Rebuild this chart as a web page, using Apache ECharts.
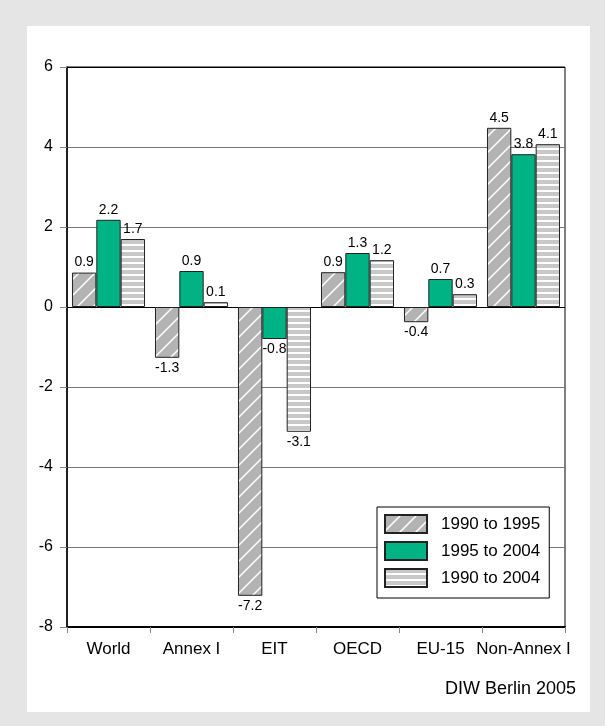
<!DOCTYPE html>
<html>
<head>
<meta charset="utf-8">
<script src="https://cdn.jsdelivr.net/npm/echarts@6/dist/echarts.min.js"></script>
<style>
html,body{margin:0;padding:0;background:#e5e5e5;}
#c{width:605px;height:726px;}
</style>
</head>
<body>
<div id="c"></div>
<script>
var categories = ['World', 'Annex I', 'EIT', 'OECD', 'EU-15', 'Non-Annex I'];
var seriesNames = ['1990 to 1995', '1995 to 2004', '1990 to 2004'];
var v1990_1995 = [0.86, -1.27, -7.22, 0.87, -0.38, 4.48];
var v1995_2004 = [2.18, 0.9, -0.8, 1.35, 0.7, 3.82];
var v1990_2004 = [1.7, 0.12, -3.12, 1.17, 0.32, 4.07];
var lab1990_1995 = ['0.9', '-1.3', '-7.2', '0.9', '-0.4', '4.5'];
var lab1995_2004 = ['2.2', '0.9', '-0.8', '1.3', '0.7', '3.8'];
var lab1990_2004 = ['1.7', '0.1', '-3.1', '1.2', '0.3', '4.1'];
var yTicks = [-8, -6, -4, -2, 0, 2, 4, 6];
var sourceText = 'DIW Berlin 2005';

var FONT = '"Liberation Sans", Arial, Helvetica, sans-serif';

function hatchPattern() {
  var c = document.createElement('canvas');
  var s = 16;
  c.width = s; c.height = s;
  var g = c.getContext('2d');
  g.fillStyle = '#b3b3b3';
  g.fillRect(0, 0, s, s);
  g.strokeStyle = '#ffffff';
  g.lineWidth = 1.5;
  g.beginPath();
  g.moveTo(-2, s + 2); g.lineTo(s + 2, -2);
  g.moveTo(-2, 2); g.lineTo(2, -2);
  g.moveTo(s - 2, s + 2); g.lineTo(s + 2, s - 2);
  g.stroke();
  return c;
}
function stripePattern() {
  var c = document.createElement('canvas');
  c.width = 6; c.height = 6;
  var g = c.getContext('2d');
  g.fillStyle = '#c8c8c8';
  g.fillRect(0, 0, 6, 6);
  g.fillStyle = '#ffffff';
  g.fillRect(0, 4, 6, 2);
  return c;
}

var fills = [
  { image: hatchPattern(), repeat: 'repeat' },
  '#00b385',
  { image: stripePattern(), repeat: 'repeat' }
];
var values = [v1990_1995, v1995_2004, v1990_2004];
var labels = [lab1990_1995, lab1995_2004, lab1990_2004];

var series = seriesNames.map(function (name, si) {
  return {
    name: name,
    type: 'bar',
    barGap: '0%',
    barCategoryGap: '12%',
    itemStyle: { color: fills[si], borderColor: '#222', borderWidth: 1 },
    data: values[si].map(function (v, i) {
      return {
        value: v,
        label: {
          show: true,
          position: v < 0 ? 'bottom' : 'top',
          formatter: labels[si][i],
          distance: 3,
          color: '#000',
          fontSize: 14,
          fontFamily: FONT
        }
      };
    })
  };
});

var chart = echarts.init(document.getElementById('c'), null, { renderer: 'canvas' });
chart.setOption({
  backgroundColor: '#e5e5e5',
  animation: false,
  graphic: [
    { type: 'rect', z: -10, shape: { x: 27, y: 26, width: 563, height: 686 }, style: { fill: '#ffffff' } },
    { type: 'text', right: 605 - 576, top: 680, style: { text: sourceText, fill: '#000', font: '18px ' + FONT } }
  ],
  grid: { left: 67, right: 40, top: 67, bottom: 99, show: true, borderColor: '#000', borderWidth: 1, backgroundColor: 'transparent' },
  legend: {
    orient: 'vertical',
    left: 377, top: 507,
    padding: [7, 9, 10, 7],
    itemGap: 7,
    itemWidth: 42, itemHeight: 18,
    icon: 'rect',
    backgroundColor: '#fff',
    borderColor: '#000', borderWidth: 1,
    textStyle: { fontSize: 17, color: '#000', fontFamily: FONT, padding: [0, 0, 0, 9] },
    data: seriesNames
  },
  xAxis: {
    type: 'category',
    data: categories,
    axisLine: { onZero: false, lineStyle: { color: '#000', width: 2 } },
    axisTick: { show: true, length: 6, lineStyle: { color: '#888' } },
    axisLabel: { color: '#000', fontSize: 17, fontFamily: FONT, margin: 14, interval: 0 }
  },
  yAxis: {
    type: 'value',
    min: yTicks[0], max: yTicks[yTicks.length - 1], interval: 2,
    axisLine: { show: true, lineStyle: { color: '#000', width: 1.5 } },
    axisTick: { show: true, length: 7, lineStyle: { color: '#888' } },
    axisLabel: { color: '#000', fontSize: 16, fontFamily: FONT, margin: 14 },
    splitLine: { show: true, lineStyle: { color: ['#000', '#777', '#777', '#777', '#000', '#777', '#777', '#000'], width: 1 } }
  },
  series: series
});
</script>
</body>
</html>
